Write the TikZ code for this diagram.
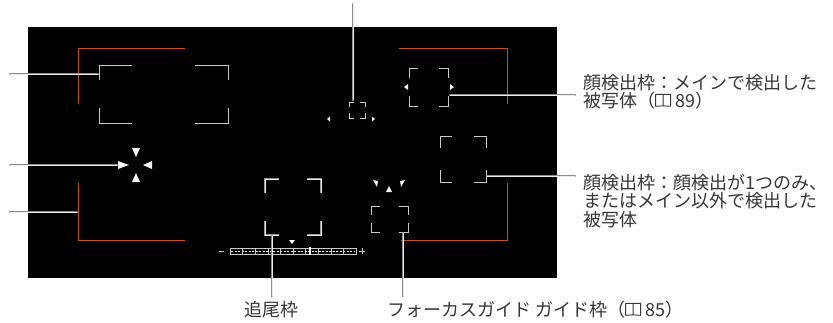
\documentclass[tikz,border=0pt]{standalone}
\usepackage{fontspec}
\setmainfont{Noto Sans CJK JP}
\usetikzlibrary{positioning}

\definecolor{frameorange}{RGB}{195,82,30}
\definecolor{framegray}{RGB}{200,200,200}
\definecolor{leadgray}{RGB}{140,140,140}
\definecolor{labelgray}{RGB}{55,55,55}

% quattro angoli di una cornice: x1,y1,x2,y2,braccio x,braccio y
\newcommand{\cornerframe}[7][]{%
  \draw[#1] (#2+#6,#3) -- (#2,#3) -- (#2,#3+#7);
  \draw[#1] (#4-#6,#3) -- (#4,#3) -- (#4,#3+#7);
  \draw[#1] (#2,#5-#7) -- (#2,#5) -- (#2+#6,#5);
  \draw[#1] (#4,#5-#7) -- (#4,#5) -- (#4-#6,#5);
}
\newcommand{\bookicon}{\tikz[baseline=-1.5pt, x=1pt, y=1pt, line width=0.9pt, line join=round, draw=labelgray]
  \draw (0,0) -- (0,12) -- (15,12) -- (15,0) (7.5,12) -- (7.5,0.5)
        (0,0) .. controls (4,1.2) .. (7.5,0.5) .. controls (11,1.2) .. (15,0);}

\tikzset{
  orangeframe/.style={draw=frameorange, line width=1pt},
  facemark/.style={draw=framegray, line width=1pt},
  trackmark/.style={draw=gray!80, double=white!85!gray, line width=0.6pt, double distance=1pt},
  leader/.style={draw=leadgray, double=white!85!gray, line width=0.6pt, double distance=0.9pt, line cap=round},
  lbl/.style={font=\fontsize{18}{18.5}\selectfont, text=labelgray, inner sep=0pt, align=left}
}

\begin{document}
\begin{tikzpicture}[x=1pt, y=-1pt]
  \useasboundingbox (0,0) rectangle (833,322);

  % Schermo
  \fill[black] (28,27) rectangle (557,278);

  % Cornici arancioni
  \draw[orangeframe] (78,104) -- (78,48) -- (185,48);
  \draw[orangeframe] (78,183) -- (78,240) -- (185,240);
  \draw[orangeframe] (399,48) -- (507,48) -- (507,104);
  \draw[orangeframe] (507,183) -- (507,240) -- (401,240);

  % Cornici bianche
  \cornerframe[facemark]{99}{65}{228}{123}{33}{15}
  \cornerframe[facemark, line width=0.9pt]{349}{102}{365}{118}{5}{5}
  \cornerframe[facemark]{409}{68}{448}{106}{9}{10}
  \cornerframe[facemark]{440}{136}{486}{182}{12}{12}
  \cornerframe[trackmark]{265}{179}{321}{235}{14}{14}
  \cornerframe[facemark]{371}{206}{408}{232}{9}{9}

  % Frecce
  \foreach \tri in {{(118,161) -- (118,169) -- (129,165)},
                    {(152,161) -- (152,169) -- (143,165)},
                    {(132,148) -- (140,148) -- (136,157)},
                    {(132,182) -- (140,182) -- (136,173)},
                    {(327,119) -- (330,116.5) -- (330,121.5)},
                    {(375,119) -- (372,116.5) -- (372,121.5)},
                    {(404,87) -- (408,84) -- (408,90)},
                    {(454,87) -- (450,84) -- (450,90)},
                    {(373,180) -- (378,181) -- (377,187)},
                    {(405,180) -- (400,181) -- (401,187)},
                    {(389,186) -- (386,192) -- (392,192)},
                    {(289,240) -- (295,240) -- (292,244)}}
    \fill[white!92!gray] \tri -- cycle;

  % Barra
  \draw[framegray, line width=0.8pt] (230,248) rectangle (356,254);
  \draw[white, line width=0.6pt, dash pattern=on 2pt off 1.5pt] (231,251) -- (355,251);
  \foreach \t in {1,...,9}
    \draw[framegray, line width=0.6pt] (230+\t*12.6,248.5) -- (230+\t*12.6,253.5);
  \draw[white, line width=1.4pt] (310,247) -- (310,255);
  \draw[framegray, line width=0.8pt] (219,251) -- (224,251);
  \draw[framegray, line width=0.8pt] (359,251) -- (365,251) (362,248) -- (362,254);

  % Testi
  \node[lbl, anchor=north west] (mainlbl) at (583,74) {顔検出枠：メインで検出した\\被写体（\bookicon\ 89）};
  \node[lbl, anchor=north west] (otherlbl) at (583,174) {顔検出枠：顔検出が1つのみ、\\またはメイン以外で検出した\\被写体};
  \node[lbl] (tracklbl) at (271,310) {追尾枠};
  \node[lbl, anchor=west] (guidelbl) at (387,310) {フォーカスガイド ガイド枠（\bookicon\ 85）};

  % Punti dei richiami
  \coordinate (faceend) at (10,74);   \coordinate (facehook) at (98,74);
  \coordinate (afend) at (10,165);    \coordinate (afhook) at (117,165);
  \coordinate (areaend) at (10,212);  \coordinate (areahook) at (77,212);
  \coordinate (smallend) at (353,4);  \coordinate (smallhook) at (353,100);
  \coordinate (mainhook) at (450,95);
  \coordinate (otherhook) at (487,176);
  \coordinate (trackhook) at (272,236);
  \coordinate (guidehook) at (403,233);

  \draw[leader] (faceend) -- (facehook);
  \draw[leader] (afend) -- (afhook);
  \draw[leader] (areaend) -- (areahook);
  \draw[leader] (smallend) -- (smallhook);
  \draw[leader] (mainhook) -- ([xshift=-8pt]mainhook -| mainlbl.west);
  \draw[leader] (otherhook) -- ([xshift=-8pt]otherhook -| otherlbl.west);
  \draw[leader] (trackhook) -- ([yshift=5pt]trackhook |- tracklbl.north);
  \draw[leader] (guidehook) -- ([yshift=5pt]guidehook |- guidelbl.north);
\end{tikzpicture}
\end{document}
